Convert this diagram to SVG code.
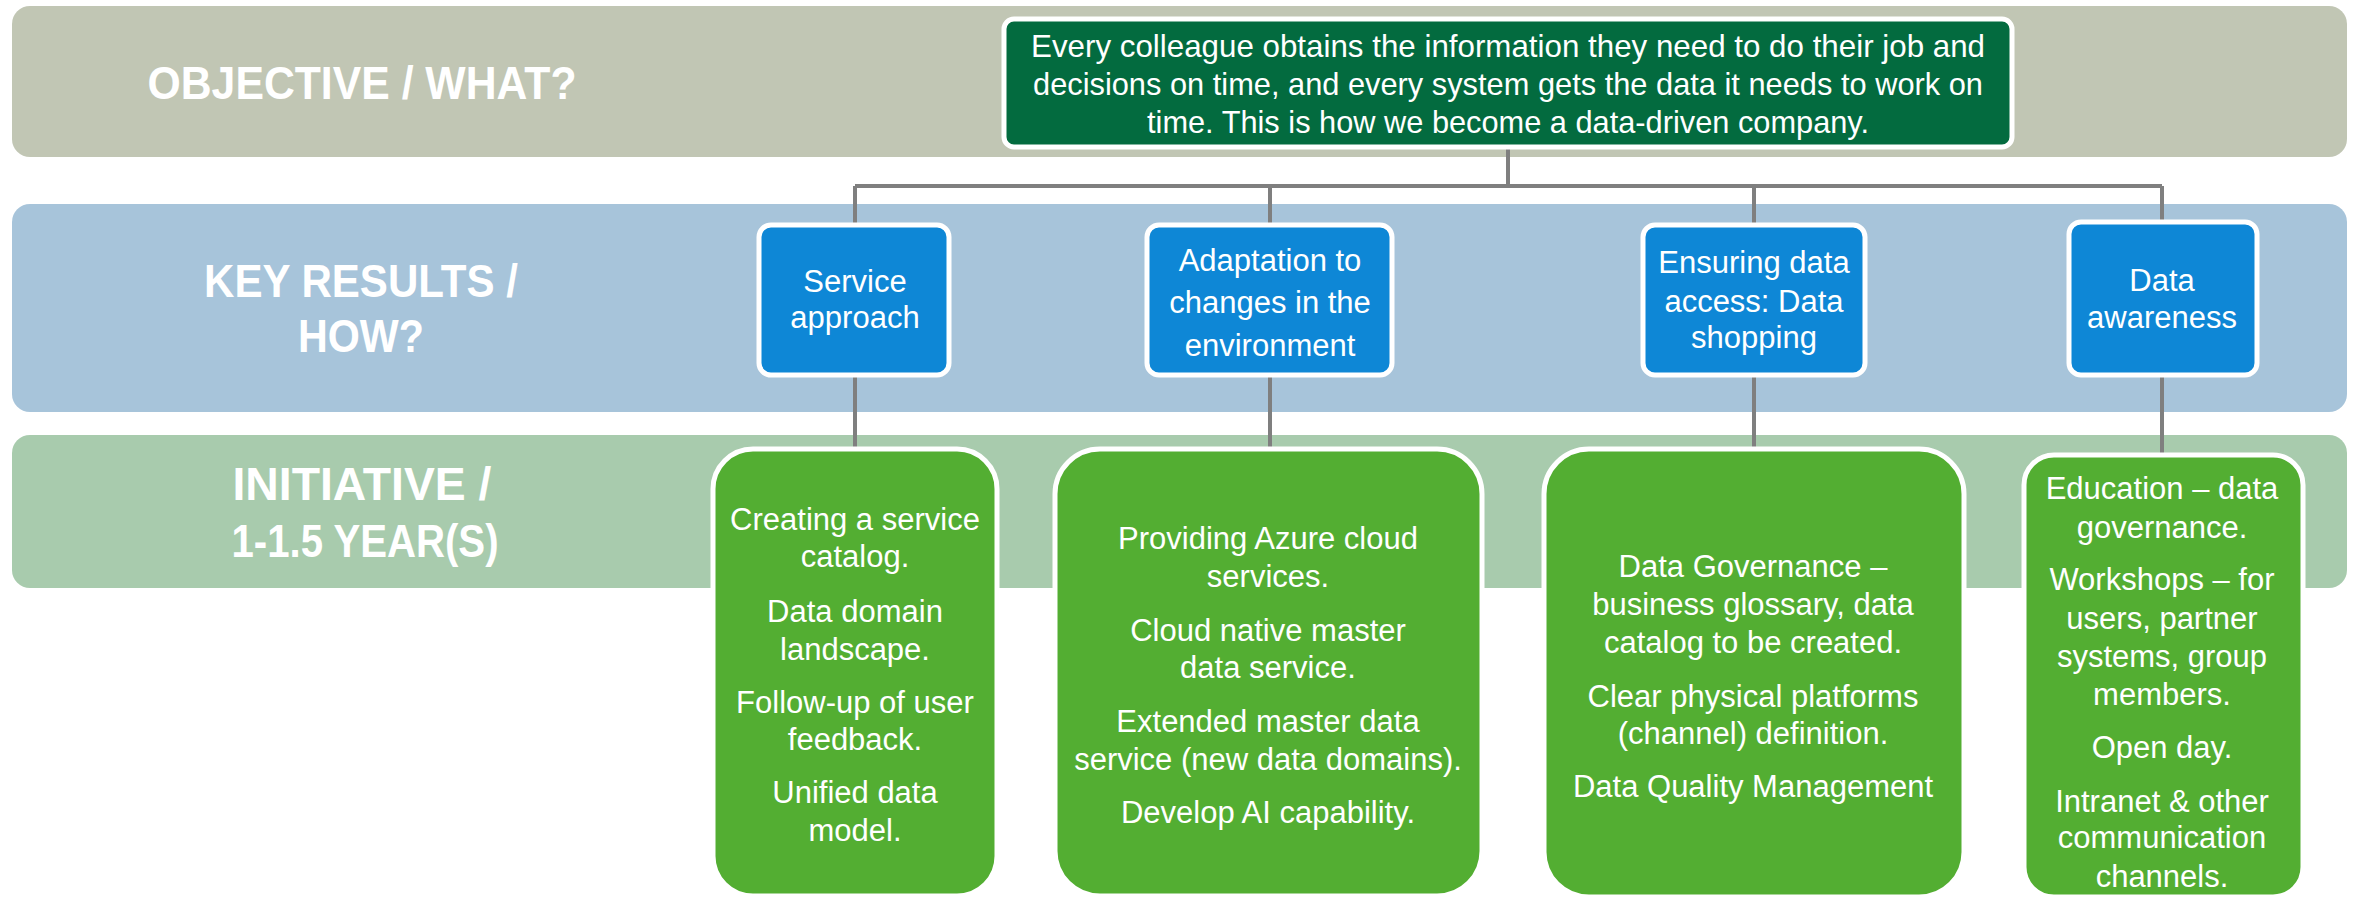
<svg xmlns="http://www.w3.org/2000/svg" width="2356" height="902" viewBox="0 0 2356 902">
  <style>
    .band-label { font-family: "Liberation Sans", Arial, sans-serif; font-weight: bold; font-size: 46px; fill: #ffffff; text-anchor: middle; }
    .txt { font-family: "Liberation Sans", Arial, sans-serif; font-size: 31px; fill: #ffffff; text-anchor: middle; }
    .obj-txt { font-size: 32px; }
    .obj { fill: #036B3F; stroke: #ffffff; stroke-width: 5; }
    .kr { fill: #0E87D6; stroke: #ffffff; stroke-width: 5; }
    .ini { fill: #53AE32; stroke: #ffffff; stroke-width: 5; }
    .conn { fill: none; stroke: #7F7F7F; stroke-width: 4; }
  </style>
  <rect width="2356" height="902" fill="#ffffff"/>

  <!-- horizontal bands -->
  <g id="bands">
    <rect x="12" y="6" width="2335" height="151" rx="18" fill="#C1C6B4"/>
    <rect x="12" y="204" width="2335" height="208" rx="18" fill="#A7C4DA"/>
    <rect x="12" y="435" width="2335" height="153" rx="18" fill="#A8CBAD"/>
    <text class="band-label" x="362" y="99" textLength="429" lengthAdjust="spacingAndGlyphs">OBJECTIVE / WHAT?</text>
    <text class="band-label" x="361" y="297" textLength="314" lengthAdjust="spacingAndGlyphs">KEY RESULTS /</text>
    <text class="band-label" x="361" y="352" textLength="126" lengthAdjust="spacingAndGlyphs">HOW?</text>
    <text class="band-label" x="362" y="500" textLength="259" lengthAdjust="spacingAndGlyphs">INITIATIVE /</text>
    <text class="band-label" x="365" y="557" textLength="267" lengthAdjust="spacingAndGlyphs">1-1.5 YEAR(S)</text>
  </g>

  <!-- connectors -->
  <g id="connectors">
    <path class="conn" d="M1508 149 V186"/>
    <path class="conn" d="M855 186 H2162" stroke-width="5"/>
    <path class="conn" d="M855 186 V225 M1270 186 V225 M1754 186 V225 M2162 186 V222"/>
    <path class="conn" d="M855 375 V449 M1270 375 V449 M1754 375 V449 M2162 375 V455"/>
  </g>

  <!-- objective -->
  <g id="objective">
    <rect class="obj" x="1004" y="19" width="1008" height="128" rx="10"/>
    <text class="txt obj-txt" x="1508" y="57" textLength="954" lengthAdjust="spacingAndGlyphs">Every colleague obtains the information they need to do their job and</text>
    <text class="txt obj-txt" x="1508" y="95" textLength="950" lengthAdjust="spacingAndGlyphs">decisions on time, and every system gets the data it needs to work on</text>
    <text class="txt obj-txt" x="1508" y="133" textLength="722" lengthAdjust="spacingAndGlyphs">time. This is how we become a data-driven company.</text>
  </g>

  <!-- key results -->
  <g id="kr-service">
    <rect class="kr" x="759" y="225" width="190" height="150" rx="12"/>
    <text class="txt" x="855" y="292">Service</text>
    <text class="txt" x="855" y="328">approach</text>
  </g>
  <g id="kr-adaptation">
    <rect class="kr" x="1147" y="225" width="245" height="150" rx="12"/>
    <text class="txt" x="1270" y="271">Adaptation to</text>
    <text class="txt" x="1270" y="313">changes in the</text>
    <text class="txt" x="1270" y="356">environment</text>
  </g>
  <g id="kr-access">
    <rect class="kr" x="1643" y="225" width="222" height="150" rx="12"/>
    <text class="txt" x="1754" y="273">Ensuring data</text>
    <text class="txt" x="1754" y="312">access: Data</text>
    <text class="txt" x="1754" y="348">shopping</text>
  </g>
  <g id="kr-awareness">
    <rect class="kr" x="2069" y="222" width="188" height="153" rx="12"/>
    <text class="txt" x="2162" y="291">Data</text>
    <text class="txt" x="2162" y="328">awareness</text>
  </g>

  <!-- initiatives -->
  <g id="ini-service">
    <rect class="ini" x="713" y="449" width="284" height="447" rx="40"/>
    <text class="txt" x="855" y="530">Creating a service</text>
    <text class="txt" x="855" y="567">catalog.</text>
    <text class="txt" x="855" y="622">Data domain</text>
    <text class="txt" x="855" y="660">landscape.</text>
    <text class="txt" x="855" y="713">Follow-up of user</text>
    <text class="txt" x="855" y="750">feedback.</text>
    <text class="txt" x="855" y="803">Unified data</text>
    <text class="txt" x="855" y="841">model.</text>
  </g>
  <g id="ini-adaptation">
    <rect class="ini" x="1055" y="449" width="427" height="447" rx="45"/>
    <text class="txt" x="1268" y="549">Providing Azure cloud</text>
    <text class="txt" x="1268" y="587">services.</text>
    <text class="txt" x="1268" y="641">Cloud native master</text>
    <text class="txt" x="1268" y="678">data service.</text>
    <text class="txt" x="1268" y="732">Extended master data</text>
    <text class="txt" x="1268" y="770">service (new data domains).</text>
    <text class="txt" x="1268" y="823">Develop AI capability.</text>
  </g>
  <g id="ini-access">
    <rect class="ini" x="1544" y="449" width="420" height="448" rx="45"/>
    <text class="txt" x="1753" y="577">Data Governance –</text>
    <text class="txt" x="1753" y="615">business glossary, data</text>
    <text class="txt" x="1753" y="653">catalog to be created.</text>
    <text class="txt" x="1753" y="707">Clear physical platforms</text>
    <text class="txt" x="1753" y="744">(channel) definition.</text>
    <text class="txt" x="1753" y="797">Data Quality Management</text>
  </g>
  <g id="ini-awareness">
    <rect class="ini" x="2024" y="455" width="279" height="442" rx="30"/>
    <text class="txt" x="2162" y="499">Education – data</text>
    <text class="txt" x="2162" y="538">governance.</text>
    <text class="txt" x="2162" y="590">Workshops – for</text>
    <text class="txt" x="2162" y="629">users, partner</text>
    <text class="txt" x="2162" y="667">systems, group</text>
    <text class="txt" x="2162" y="705">members.</text>
    <text class="txt" x="2162" y="758">Open day.</text>
    <text class="txt" x="2162" y="812">Intranet &amp; other</text>
    <text class="txt" x="2162" y="848">communication</text>
    <text class="txt" x="2162" y="887">channels.</text>
  </g>
</svg>
